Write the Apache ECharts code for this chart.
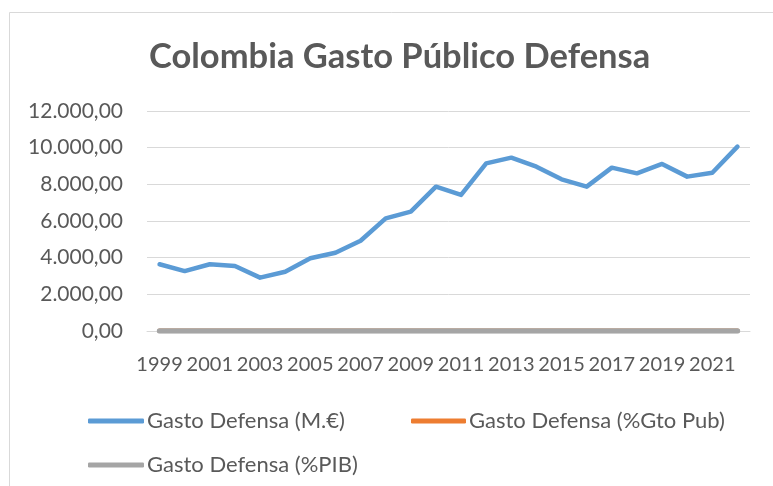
<!DOCTYPE html>
<html>
<head>
<meta charset="utf-8">
<script src="https://cdn.jsdelivr.net/npm/echarts@6/dist/echarts.min.js"></script>
<style>
html,body{margin:0;padding:0;background:#fff;}
#c{width:773px;height:486px;}
</style>
</head>
<body>
<div id="c"></div>
<script>
var years = ['1999','2000','2001','2002','2003','2004','2005','2006','2007','2008','2009','2010','2011','2012','2013','2014','2015','2016','2017','2018','2019','2020','2021','2022'];
var gastoME = [3640,3270,3640,3545,2910,3235,3965,4270,4925,6145,6510,7870,7420,9145,9455,8965,8275,7875,8910,8600,9110,8420,8635,10055];
var gastoGtoPub = [11.2,10.5,10.9,11.0,10.8,11.4,11.6,11.3,11.1,11.9,11.0,10.8,10.2,10.5,10.6,10.1,9.8,9.6,9.9,9.7,9.4,8.6,8.9,9.1];
var gastoPIB = [3.4,3.3,3.4,3.5,3.6,3.6,3.6,3.5,3.3,3.6,3.9,3.6,3.1,3.2,3.3,3.1,3.1,3.2,3.2,3.2,3.2,3.4,3.1,3.0];
var seriesNames = ['Gasto Defensa (M.€)','Gasto Defensa (%Gto Pub)','Gasto Defensa (%PIB)'];
var yTicks = [0,2000,4000,6000,8000,10000,12000];

function fmt(v){
  var s = Math.round(v).toString().replace(/\B(?=(\d{3})+(?!\d))/g,'.');
  return s + ',00';
}
var txt = '#595959';
var ff = 'Lato, "Open Sans", sans-serif';
var legText = {fontFamily:ff,fontSize:22,color:txt,padding:[0,0,0,-2]};
var chart = echarts.init(document.getElementById('c'));
chart.setOption({
  animation:false,
  backgroundColor:'#fff',
  graphic:[{type:'rect',shape:{x:9.5,y:12.5,width:800,height:500},style:{fill:'none',stroke:'#d9d9d9',lineWidth:1},silent:true}],
  title:{text:'Colombia Gasto Público Defensa',left:144,top:34,textStyle:{fontFamily:ff,fontSize:34.5,fontWeight:'bold',color:txt}},
  grid:{left:147,right:23,top:111,bottom:155},
  legend:[
    {data:[seriesNames[0]],left:83,top:405,itemWidth:56,itemHeight:5,icon:'roundRect',textStyle:legText},
    {data:[seriesNames[1]],left:406,top:405,itemWidth:55,itemHeight:5,icon:'roundRect',textStyle:legText},
    {data:[seriesNames[2]],left:83,top:449,itemWidth:56,itemHeight:5,icon:'roundRect',textStyle:legText}
  ],
  xAxis:{type:'category',data:years,boundaryGap:true,
    axisLine:{show:true,lineStyle:{color:'#d9d9d9',width:1}},axisTick:{show:false},
    axisLabel:{interval:1,fontFamily:ff,fontSize:20,color:txt,margin:24}},
  yAxis:{type:'value',min:0,max:12000,interval:2000,
    axisLine:{show:false},axisTick:{show:false},
    splitLine:{lineStyle:{color:'#d9d9d9',width:1}},
    axisLabel:{fontFamily:ff,fontSize:21,color:txt,margin:24,formatter:fmt}},
  series:[
    {name:seriesNames[0],type:'line',data:gastoME,symbol:'none',lineStyle:{color:'#5b9bd5',width:4.5,cap:'round',join:'round'},itemStyle:{color:'#5b9bd5'},z:3},
    {name:seriesNames[1],type:'line',data:gastoGtoPub,symbol:'none',lineStyle:{color:'#ed7d31',width:4.5,cap:'round'},itemStyle:{color:'#ed7d31'},z:4},
    {name:seriesNames[2],type:'line',data:gastoPIB,symbol:'none',lineStyle:{color:'#a5a5a5',width:5.5,cap:'round'},itemStyle:{color:'#a5a5a5'},z:5}
  ]
});
</script>
</body>
</html>
